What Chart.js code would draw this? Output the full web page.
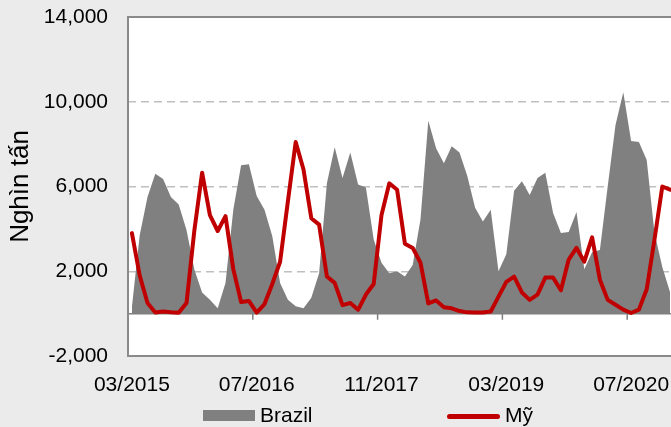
<!DOCTYPE html>
<html>
<head>
<meta charset="utf-8">
<script src="https://cdn.jsdelivr.net/npm/chart.js@4.4.1/dist/chart.umd.min.js"></script>
<style>
    body { margin: 0; background: #ebebeb; overflow: hidden; font-family: "Liberation Sans", Arial, sans-serif; }
    #wrap { position: relative; width: 674px; height: 427px; }
    .legText { position: absolute; top: 403px; font-size: 21px; line-height: 24px; color: #000; white-space: nowrap; }
    .legBox { position: absolute; left: 203px; top: 410px; width: 52px; height: 11px; background: #808080; }
    .legLine { position: absolute; left: 447px; top: 414px; width: 53px; height: 5px; border-radius: 2.5px; background: #c00000; }
</style>
</head>
<body>
<div id="wrap">
    <canvas id="lineChart" width="674" height="427"></canvas>
    <div class="legBox"></div>
    <div class="legText" id="legBrazil" style="left:260px;"></div>
    <div class="legLine"></div>
    <div class="legText" id="legMy" style="left:505px;"></div>
</div>
<script>
// Tháng (03/2015 - 12/2020)
const months = [
    '03/2015', '04/2015', '05/2015', '06/2015', '07/2015', '08/2015', '09/2015', '10/2015', '11/2015', '12/2015',
    '01/2016', '02/2016', '03/2016', '04/2016', '05/2016', '06/2016', '07/2016', '08/2016', '09/2016', '10/2016', '11/2016', '12/2016',
    '01/2017', '02/2017', '03/2017', '04/2017', '05/2017', '06/2017', '07/2017', '08/2017', '09/2017', '10/2017', '11/2017', '12/2017',
    '01/2018', '02/2018', '03/2018', '04/2018', '05/2018', '06/2018', '07/2018', '08/2018', '09/2018', '10/2018', '11/2018', '12/2018',
    '01/2019', '02/2019', '03/2019', '04/2019', '05/2019', '06/2019', '07/2019', '08/2019', '09/2019', '10/2019', '11/2019', '12/2019',
    '01/2020', '02/2020', '03/2020', '04/2020', '05/2020', '06/2020', '07/2020', '08/2020', '09/2020', '10/2020', '11/2020', '12/2020'
];

const tickLabels = ['03/2015', '07/2016', '11/2017', '03/2019', '07/2020'];

const brazilLabel = 'Brazil';
const brazilValues = [
    300, 3700, 5500, 6600, 6350, 5500, 5150, 3950, 2100, 1000,
    650, 250, 1450, 4900, 7000, 7050, 5550, 4900, 3650, 1450, 650, 350,
    250, 750, 1900, 6150, 7850, 6400, 7600, 6100, 5950, 3500, 2400, 1900,
    2000, 1750, 2300, 4450, 9100, 7800, 7100, 7900, 7600, 6500, 5000, 4350,
    4900, 2000, 2800, 5800, 6250, 5600, 6400, 6650, 4750, 3800, 3850, 4800,
    2100, 2900, 3000, 6000, 8900, 10450, 8150, 8100, 7250, 3800, 2200, 1000
];

const myLabel = 'Mỹ';
const myValues = [
    3800, 1800, 500, 50, 100, 60, 40, 500, 3900, 6650,
    4650, 3900, 4600, 2100, 550, 600, 50, 450, 1400, 2450, 5300, 8100,
    6800, 4500, 4200, 1750, 1450, 400, 500, 180, 900, 1400, 4650, 6150,
    5850, 3300, 3100, 2400, 480, 620, 300, 250, 120, 60, 50, 50,
    100, 800, 1500, 1750, 1000, 650, 900, 1700, 1700, 1100, 2550, 3100,
    2450, 3600, 1600, 650, 420, 190, 30, 190, 1150, 3500, 6000, 5850
];

const yMin = -2000;
const yMax = 14000;
const yStep = 4000;

const fontFamily = '"Liberation Sans", Arial, sans-serif';

document.getElementById('legBrazil').textContent = brazilLabel;
document.getElementById('legMy').textContent = myLabel;

// nền trắng, đường 0, vạch chia và khung
const plotFrame = {
    id: 'plotFrame',
    beforeDraw(chart) {
        const {ctx, chartArea: a} = chart;
        ctx.save();
        ctx.fillStyle = '#ffffff';
        ctx.fillRect(a.left, a.top, a.right - a.left, a.bottom - a.top);
        ctx.restore();
    },
    afterDatasetDraw(chart, args) {
        if (args.index !== 1) return; // sau vùng Brazil
        const {ctx, chartArea: a, scales: {x, y}} = chart;
        const y0 = y.getPixelForValue(0);
        const half = (x.getPixelForValue(1) - x.getPixelForValue(0)) / 2;
        ctx.save();
        ctx.strokeStyle = '#7f7f7f';
        ctx.lineWidth = 1.5;
        ctx.beginPath();
        ctx.moveTo(a.left, y0);
        ctx.lineTo(a.right, y0);
        months.forEach((m, i) => {
            if (tickLabels.includes(m)) {
                const px = x.getPixelForValue(i) - half;
                ctx.moveTo(px, y0);
                ctx.lineTo(px, y0 + 6);
            }
        });
        ctx.stroke();
        ctx.restore();
    },
    afterDraw(chart) {
        const {ctx, chartArea: a} = chart;
        ctx.save();
        ctx.strokeStyle = '#8a8a8a';
        ctx.lineWidth = 2;
        ctx.strokeRect(a.left, a.top, a.right - a.left, a.bottom - a.top);
        ctx.restore();
    }
};

// Tegn grafen
const ctx = document.getElementById('lineChart').getContext('2d');
new Chart(ctx, {
    type: 'line',
    data: {
        labels: months,
        datasets: [{
            label: myLabel,
            data: myValues,
            borderColor: '#c00000',
            backgroundColor: '#c00000',
            borderWidth: 4,
            borderJoinStyle: 'round',
            borderCapStyle: 'round',
            pointRadius: 0,
            fill: false,
            tension: 0
        },
            {
                label: brazilLabel,
                data: brazilValues,
                borderColor: 'rgba(0,0,0,0)',
                borderWidth: 0,
                backgroundColor: '#808080',
                pointRadius: 0,
                fill: 'origin',
                tension: 0
            }
        ]
    },
    options: {
        responsive: false,
        animation: false,
        layout: {padding: {top: 17, left: 0, right: 0, bottom: 0}},
        plugins: {
            legend: {display: false},
            tooltip: {enabled: false}
        },
        scales: {
            x: {
                offset: true,
                grid: {display: false, drawTicks: false},
                border: {display: false},
                ticks: {
                    autoSkip: false,
                    maxRotation: 0,
                    padding: 17,
                    color: '#000',
                    font: {family: fontFamily, size: 21},
                    callback: function (v) {
                        const l = this.getLabelForValue(v);
                        return tickLabels.includes(l) ? l : '';
                    }
                },
                afterFit: s => {
                    s.height = 71;
                    s.paddingLeft = 0;
                    s.paddingRight = 0;
                }
            },
            y: {
                min: yMin,
                max: yMax,
                ticks: {
                    stepSize: yStep,
                    padding: 20,
                    color: '#000',
                    font: {family: fontFamily, size: 21},
                    callback: v => v.toLocaleString('en-US')
                },
                grid: {
                    drawTicks: false,
                    lineWidth: 1.5,
                    borderDash: [8, 5],
                    color: c => (c.tick && (c.tick.value === yMax || c.tick.value === yMin)) ? 'rgba(0,0,0,0)' : '#bfbfbf'
                },
                border: {display: false, dash: [8, 5]},
                title: {
                    display: true,
                    text: 'Nghìn tấn',
                    color: '#000',
                    font: {family: fontFamily, size: 26},
                    padding: {top: 5, bottom: 0}
                },
                afterFit: s => {
                    s.width = 128;
                    s.paddingTop = 0;
                    s.paddingBottom = 0;
                }
            }
        }
    },
    plugins: [plotFrame]
});
</script>
</body>
</html>
